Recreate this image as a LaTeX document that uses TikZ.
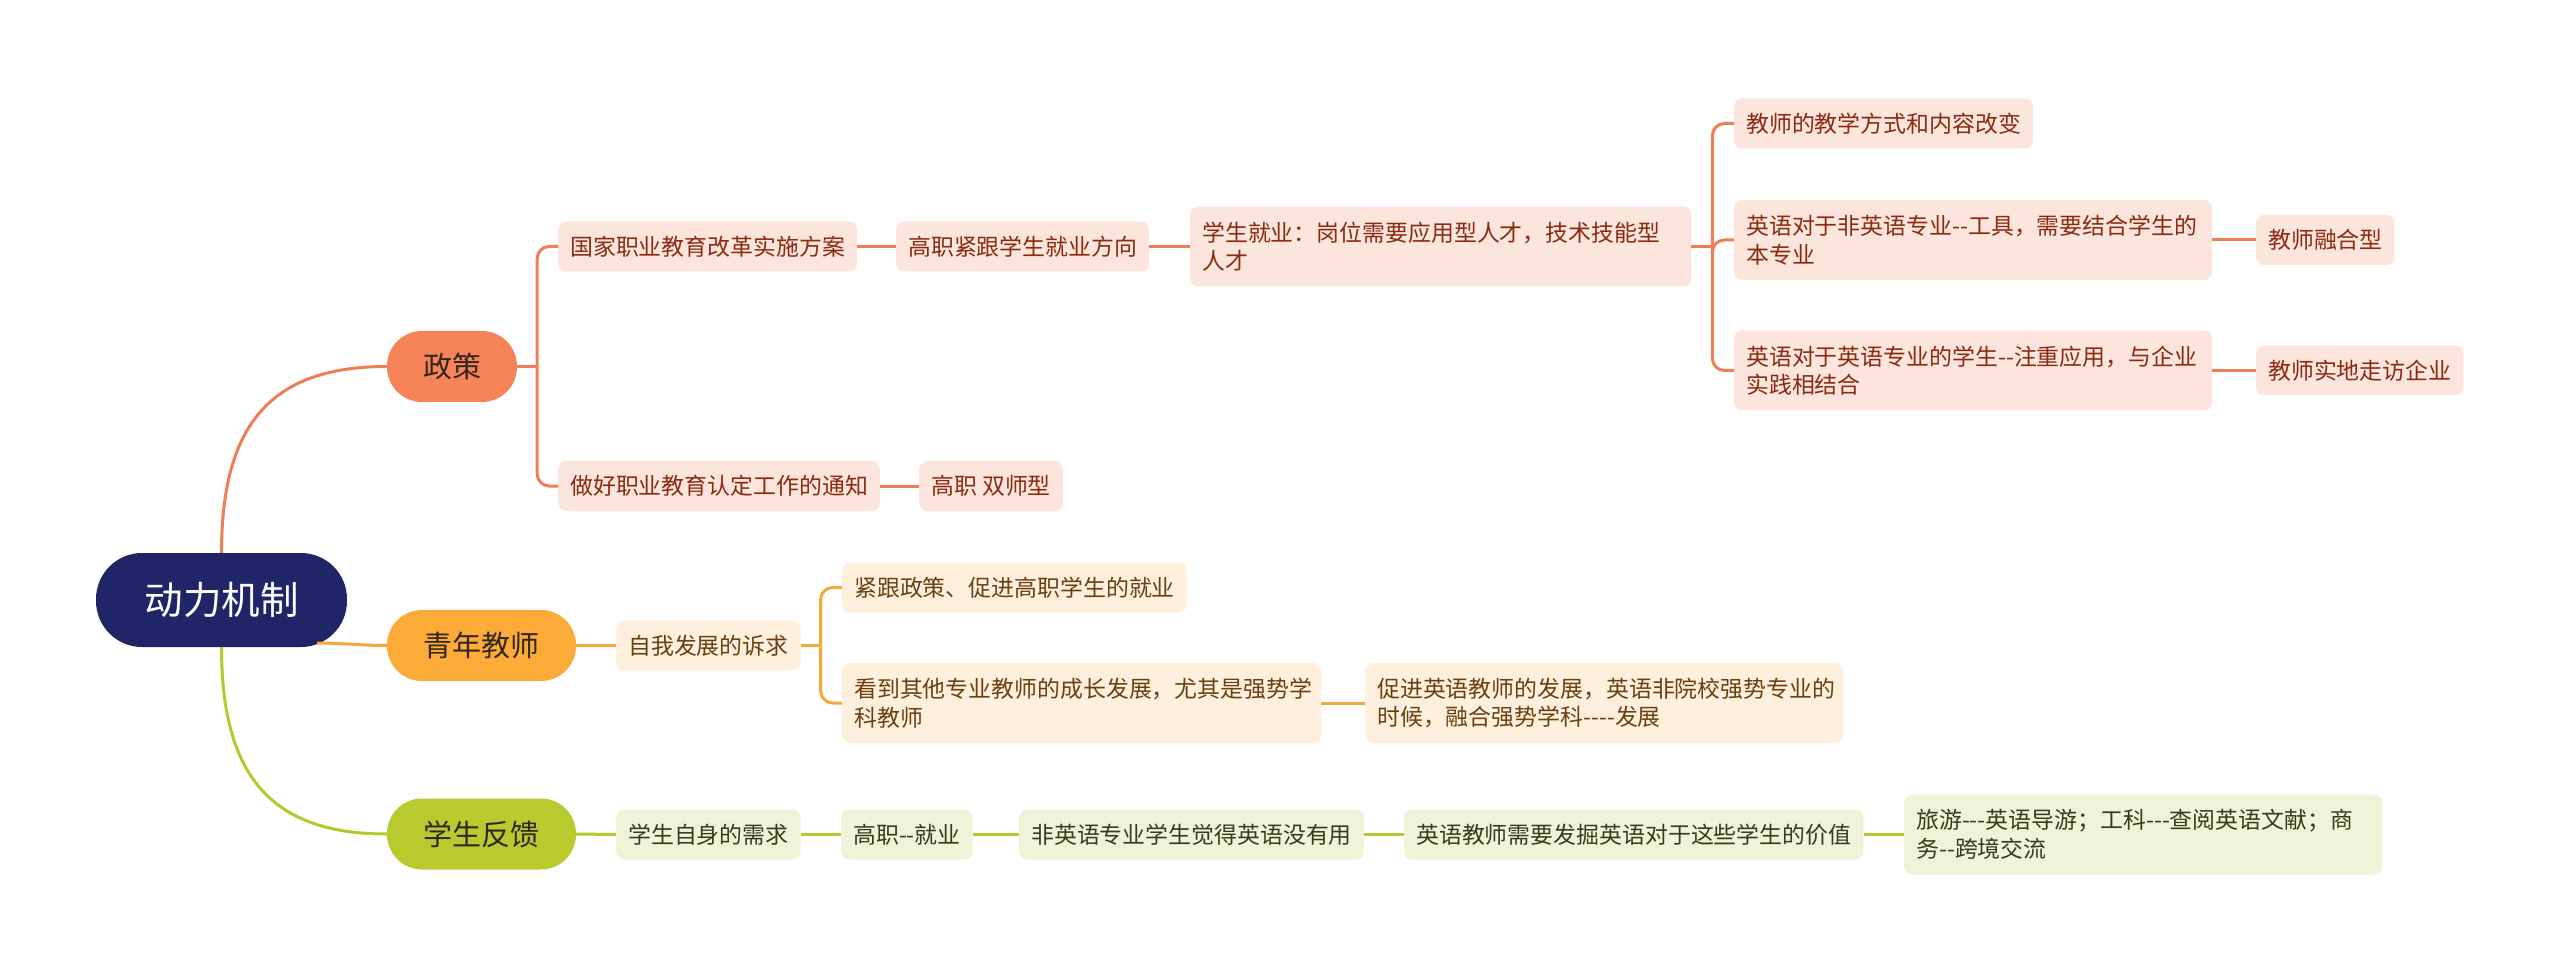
\documentclass[tikz,border=0pt]{standalone}
\usepackage{fontspec}
\newfontfamily\cjk{Noto Sans CJK SC}
\definecolor{rootfill}{HTML}{1F2566}
\definecolor{zfill}{HTML}{F78458}
\definecolor{zline}{HTML}{EE7E55}
\definecolor{zsub}{HTML}{FCE5DC}
\definecolor{ztext}{HTML}{8A2A10}
\definecolor{qfill}{HTML}{FCAB38}
\definecolor{qline}{HTML}{F5A93A}
\definecolor{qsub}{HTML}{FEF0DC}
\definecolor{qtext}{HTML}{6B4010}
\definecolor{xfill}{HTML}{B8CA2E}
\definecolor{xline}{HTML}{B5C92E}
\definecolor{xsub}{HTML}{EFF3D8}
\definecolor{xtext}{HTML}{3A3A1A}
\definecolor{lvtext}{HTML}{33261C}
\newcommand\subfont{\cjk\fontsize{22.9pt}{28.5pt}\selectfont}
\newcommand\lvfont{\cjk\fontsize{29pt}{34pt}\selectfont}
\newcommand\rootfont{\cjk\fontsize{38.5pt}{44pt}\selectfont}
\tikzset{
  rootbox/.style={fill=rootfill, text=white, font=\rootfont, rounded corners=46pt,
    minimum width=251pt, minimum height=94pt, inner sep=0pt},
  lvbox/.style={text=lvtext, font=\lvfont, rounded corners=35pt,
    minimum height=71pt, inner sep=0pt},
  subbox/.style={anchor=west, font=\subfont, rounded corners=8pt, inner xsep=12pt,
    inner ysep=0pt, minimum height=50pt},
  twoline/.style={subbox, align=left, text width=#1, minimum height=80pt},
  zbox/.style={subbox, fill=zsub, text=ztext},
  ztwo/.style={twoline=#1, fill=zsub, text=ztext},
  qbox/.style={subbox, fill=qsub, text=qtext},
  qtwo/.style={twoline=#1, fill=qsub, text=qtext},
  xbox/.style={subbox, fill=xsub, text=xtext},
  xtwo/.style={twoline=#1, fill=xsub, text=xtext},
  zl/.style={draw=zline, line width=3pt},
  ql/.style={draw=qline, line width=3pt},
  xl/.style={draw=xline, line width=3pt},
  elbow/.style={rounded corners=12pt},
}
\begin{document}
\begin{tikzpicture}[x=1pt,y=-1pt]
\useasboundingbox (0,0) rectangle (2560,973);
% root and level one
\node[rootbox] (root) at (221.5,600) {动力机制};
\node[lvbox, fill=zfill, minimum width=130pt] (zc) at (452,366.5) {政策};
\node[lvbox, fill=qfill, minimum width=189pt] (qn) at (481.5,645.5) {青年教师};
\node[lvbox, fill=xfill, minimum width=189pt] (xs) at (481.5,834) {学生反馈};
% policy branch
\node[zbox] (A1) at (558,246.5) {国家职业教育改革实施方案};
\node[zbox] (A2) at (896,246.5) {高职紧跟学生就业方向};
\node[ztwo=477pt] (A3) at (1190,246.5) {学生就业：岗位需要应用型人才，技术技能型\\人才};
\node[zbox] (A4) at (1734,123.5) {教师的教学方式和内容改变};
\node[ztwo=454pt] (A5) at (1734,240) {英语对于非英语专业--工具，需要结合学生的\\本专业};
\node[ztwo=454pt] (A6) at (1734,370.5) {英语对于英语专业的学生--注重应用，与企业\\实践相结合};
\node[zbox] (A7) at (2256,240) {教师融合型};
\node[zbox] (A8) at (2256,370.5) {教师实地走访企业};
\node[zbox] (A9) at (558,486) {做好职业教育认定工作的通知};
\node[zbox] (A10) at (919,486) {高职 双师型};
% young teacher branch
\node[qbox] (B1) at (616,645.5) {自我发展的诉求};
\node[qbox] (B2) at (842,587.5) {紧跟政策、促进高职学生的就业};
\node[qtwo=455pt] (B3) at (842,703) {看到其他专业教师的成长发展，尤其是强势学\\科教师};
\node[qtwo=454pt] (B4) at (1365,703) {促进英语教师的发展，英语非院校强势专业的\\时候，融合强势学科----发展};
% student feedback branch
\node[xbox] (C1) at (616,834.5) {学生自身的需求};
\node[xbox] (C2) at (841,834.5) {高职--就业};
\node[xbox] (C3) at (1019,834.5) {非英语专业学生觉得英语没有用};
\node[xbox] (C4) at (1404,834.5) {英语教师需要发掘英语对于这些学生的价值};
\node[xtwo=454pt] (C5) at (1904,834.5) {旅游---英语导游；工科---查阅英语文献；商\\务--跨境交流};
% connectors from the root
\coordinate (rq) at (317,643);
\draw[zl] (root.north) .. controls (221.5,422) and (273,366.5) .. (zc.west);
\draw[ql] (rq) to[out=0,in=180] (qn.west);
\draw[xl] (root.south) .. controls (221.5,778) and (273,834) .. (xs.west);
% policy connectors
\draw[zl] (zc.east) -- ++(20,0) coordinate (zs);
\draw[zl, elbow] (zs) |- (A1.west);
\draw[zl, elbow] (zs) |- (A9.west);
\draw[zl] (A1.east) -- (A2.west);
\draw[zl] (A2.east) -- (A3.west);
\draw[zl] (A3.east) -- ++(21,0) coordinate (as);
\draw[zl, elbow] (as) |- (A4.west);
\draw[zl, elbow] (as) |- (A5.west);
\draw[zl, elbow] (as) |- (A6.west);
\draw[zl] (A5.east) -- (A7.west);
\draw[zl] (A6.east) -- (A8.west);
\draw[zl] (A9.east) -- (A10.west);
% young teacher connectors
\draw[ql] (qn.east) -- (B1.west);
\draw[ql] (B1.east) -- ++(20,0) coordinate (bs);
\draw[ql, elbow] (bs) |- (B2.west);
\draw[ql, elbow] (bs) |- (B3.west);
\draw[ql] (B3.east) -- (B4.west);
% student feedback connectors
\draw[xl] (xs.east) -- (C1.west);
\draw[xl] (C1.east) -- (C2.west);
\draw[xl] (C2.east) -- (C3.west);
\draw[xl] (C3.east) -- (C4.west);
\draw[xl] (C4.east) -- (C5.west);
\end{tikzpicture}
\end{document}
